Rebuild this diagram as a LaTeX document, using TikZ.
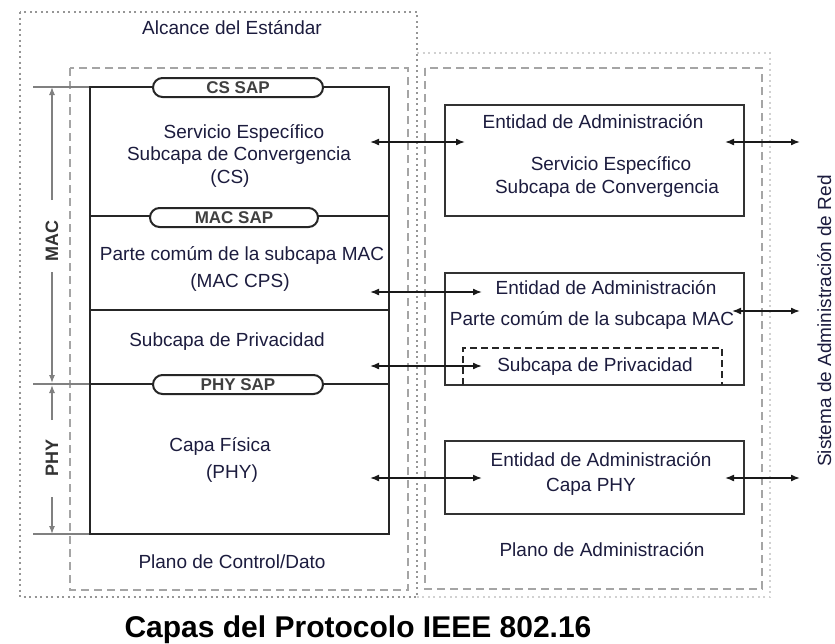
\documentclass[tikz,border=0pt]{standalone}
\usepackage{fontspec}
\setmainfont{Liberation Sans}
\usetikzlibrary{arrows.meta}
\definecolor{txt}{RGB}{28,28,62}
\definecolor{dashgray}{RGB}{165,165,165}
\definecolor{dotgray}{RGB}{150,150,150}
\begin{document}
\begin{tikzpicture}[x=1pt,y=-1pt,
 lbl/.style={font=\fontsize{19}{22}\selectfont, text=txt, inner sep=0, anchor=base},
 sap/.style={draw=black!85, line width=2pt, fill=white, rounded corners=9.5pt, minimum height=19pt, inner sep=0, font=\bfseries\fontsize{17}{19}\selectfont, text=black!75},
 layer/.style={draw=black!85, line width=2pt},
 ent/.style={draw=black!80, line width=1.6pt},
 dimtip/.style={-{Latex[length=8pt,width=6pt]}, draw=black!50, line width=1.2pt},
 dashbox/.style={draw=dashgray, line width=2pt, dash pattern=on 8pt off 5pt},
 dotbox/.style={draw=dotgray, line width=1.6pt, dash pattern=on 2pt off 3.5pt},
 faintdot/.style={draw=black!18, line width=1.4pt, dash pattern=on 2pt off 3.5pt},
 conn/.style={{Latex[length=9pt,width=7pt]}-{Latex[length=9pt,width=7pt]}, line width=1.6pt, draw=black!90},
 extline/.style={draw=black!50, line width=1.3pt},
 dimlbl/.style={font=\bfseries\fontsize{18}{20}\selectfont, text=black!80, inner sep=0, rotate=90},
]
\useasboundingbox[fill=white] (0,0) rectangle (835,643);

% scope boxes
\draw[faintdot] (417,53) -- (770,53) -- (770,597) -- (417,597);
\draw[dotbox] (20,12) rectangle (417,597);
\draw[dashbox] (70,68) rectangle (408,590);
\draw[dashbox] (425,68) rectangle (762,589);

% extension lines on the left
\coordinate (e1l) at (33,87);  \coordinate (e1r) at (90,87);
\coordinate (e2l) at (33,384); \coordinate (e2r) at (90,384);
\coordinate (e3l) at (33,534); \coordinate (e3r) at (90,534);
\draw[extline] (e1l) -- (e1r);
\draw[extline] (e2l) -- (e2r);
\draw[extline] (e3l) -- (e3r);

% protocol stack
\draw[layer] (90,87) rectangle (389,534);
\draw[layer] (90,216) -- (389,216);
\draw[layer] (90,310) -- (389,310);
\draw[layer] (90,384) -- (389,384);

\node[sap, minimum width=170pt] (cssap) at (238,87.5) {CS SAP};
\node[sap, minimum width=168pt] (macsap) at (234,217.5) {MAC SAP};
\node[sap, minimum width=170pt] (physap) at (238,384.5) {PHY SAP};

% dimension arrows MAC / PHY
\node[dimlbl] (maclbl) at (52,241) {MAC};
\node[dimlbl] (phylbl) at (52,458) {PHY};
\coordinate (m1) at (52,87);  \coordinate (m2) at (52,200);
\coordinate (m3) at (52,272); \coordinate (m4) at (52,383);
\coordinate (p1) at (52,385); \coordinate (p2) at (52,420);
\coordinate (p3) at (52,497); \coordinate (p4) at (52,534);
\draw[dimtip] (m2) -- (m1);
\draw[dimtip] (m3) -- (m4);
\draw[dimtip] (p2) -- (p1);
\draw[dimtip] (p3) -- (p4);

% stack texts
\node[lbl] (t1) at (244,138) {Servicio Específico};
\node[lbl] (t2) at (239,160) {Subcapa de Convergencia};
\node[lbl] (t3) at (230,183) {(CS)};
\node[lbl] (t4) at (242,260) {Parte comúm de la subcapa MAC};
\node[lbl] (t5) at (240,287) {(MAC CPS)};
\node[lbl] (t6) at (227,346) {Subcapa de Privacidad};
\node[lbl] (t7) at (220,451) {Capa Física};
\node[lbl] (t8) at (232,478) {(PHY)};
\node[lbl] (t9) at (232,568) {Plano de Control/Dato};
\node[lbl] (t0) at (232,34) {Alcance del Estándar};

% management entities
\draw[ent] (445,105) rectangle (744,216);
\draw[ent] (445,273) rectangle (744,385);
\draw[black!85, line width=2pt, dash pattern=on 7pt off 4pt] (463,385) -- (463,348) -- (722,348) -- (722,385);
\draw[ent] (445,441) rectangle (744,514);

\node[lbl] (r1) at (593,128) {Entidad de Administración};
\node[lbl] (r2) at (611,170) {Servicio Específico};
\node[lbl] (r3) at (607,193) {Subcapa de Convergencia};
\node[lbl] (r4) at (606,294) {Entidad de Administración};
\node[lbl] (r5) at (592,325) {Parte comúm de la subcapa MAC};
\node[lbl] (r6) at (595,371) {Subcapa de Privacidad};
\node[lbl] (r7) at (601,466) {Entidad de Administración};
\node[lbl] (r8) at (591,491) {Capa PHY};
\node[lbl] (r9) at (602,556) {Plano de Administración};

\node[font=\fontsize{19}{22}\selectfont, text=txt, inner sep=0, rotate=90, anchor=base] (nms) at (831,321) {Sistema de Administración de Red};

% connectors between planes
\coordinate (a1l) at (370,142); \coordinate (a1r) at (465,142);
\coordinate (a2l) at (370,292); \coordinate (a2r) at (482,292);
\coordinate (a3l) at (370,366); \coordinate (a3r) at (482,366);
\coordinate (a4l) at (370,478); \coordinate (a4r) at (482,478);
\draw[conn] (a1l) -- (a1r);
\draw[conn] (a2l) -- (a2r);
\draw[conn] (a3l) -- (a3r);
\draw[conn] (a4l) -- (a4r);

% connectors to the network management system
\coordinate (b1l) at (725,142); \coordinate (b1r) at (800,142);
\coordinate (b2l) at (732,311); \coordinate (b2r) at (800,311);
\coordinate (b3l) at (725,478); \coordinate (b3r) at (800,478);
\draw[conn] (b1l) -- (b1r);
\draw[conn] (b2l) -- (b2r);
\draw[conn] (b3l) -- (b3r);

% title
\node[font=\bfseries\fontsize{30}{34}\selectfont, text=black, inner sep=0, anchor=base] (title) at (358,637) {Capas del Protocolo IEEE 802.16};
\end{tikzpicture}
\end{document}
